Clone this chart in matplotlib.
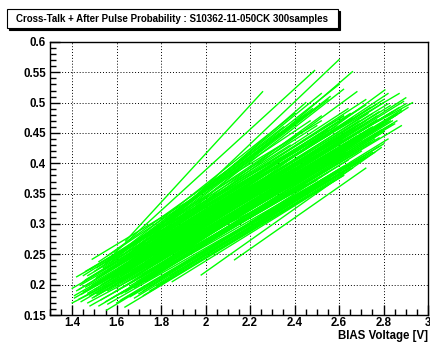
import matplotlib
matplotlib.use("Agg")
import matplotlib.pyplot as plt
from matplotlib.patches import Rectangle
from matplotlib.ticker import MultipleLocator

# Each sample curve: start voltage / probability, end voltage / probability
v_start = [
    1.40, 1.40, 1.41, 1.42, 1.43, 1.44, 1.45, 1.46, 1.47, 1.48, 1.49, 1.50, 1.50, 1.51, 1.52,
    1.53, 1.54, 1.555, 1.56, 1.57, 1.58, 1.58, 1.59, 1.60, 1.60, 1.61, 1.62, 1.62,
    1.637, 1.64, 1.64, 1.65, 1.66, 1.67, 1.68, 1.69, 1.70, 1.70, 1.71, 1.72,
    1.73, 1.74, 1.75, 1.76, 1.78, 1.78, 1.80, 1.80, 1.82, 1.85, 1.84,
    1.98, 1.90, 1.85, 1.75, 2.13,
    1.42, 1.44, 1.45, 1.46, 1.47, 1.48, 1.49, 1.50, 1.51, 1.52, 1.53, 1.54, 1.55, 1.56, 1.57,
    1.58, 1.59, 1.60, 1.61, 1.62, 1.63, 1.64, 1.65, 1.66, 1.67, 1.68, 1.69, 1.70, 1.71, 1.72,
    1.73, 1.74, 1.76, 1.77, 1.79,
    1.55, 1.60, 1.62, 1.65, 1.70, 1.58, 1.68,
    1.62, 1.66, 1.70, 1.74, 1.80, 1.88,
    1.41, 1.43, 1.44, 1.46, 1.47, 1.48, 1.49, 1.50, 1.51, 1.52, 1.53, 1.54, 1.55, 1.56, 1.57,
    1.58, 1.59, 1.60, 1.61, 1.62, 1.63, 1.64, 1.65, 1.66, 1.67, 1.68, 1.69, 1.70, 1.71, 1.72,
    1.73, 1.74, 1.75, 1.76, 1.77, 1.78, 1.80, 1.81, 1.83, 1.86,
    1.45, 1.50, 1.52, 1.56, 1.60, 1.63, 1.67, 1.72, 1.76,
    1.48, 1.55, 1.60, 1.68, 1.72, 1.78, 1.84, 1.92,
]
p_start = [
    0.170, 0.194, 0.182, 0.213, 0.176, 0.200, 0.188, 0.222, 0.170, 0.195, 0.242, 0.180, 0.208, 0.228, 0.165,
    0.200, 0.218, 0.158, 0.190, 0.235, 0.205, 0.178, 0.252, 0.215, 0.195, 0.228, 0.240, 0.185,
    0.163, 0.272, 0.210, 0.225, 0.198, 0.245, 0.232, 0.205, 0.262, 0.218, 0.250, 0.190,
    0.238, 0.228, 0.275, 0.258, 0.220, 0.280, 0.280, 0.248, 0.235, 0.285, 0.262,
    0.216, 0.222, 0.205, 0.190, 0.241,
    0.190, 0.184, 0.205, 0.196, 0.215, 0.182, 0.200, 0.192, 0.212, 0.185, 0.222, 0.198, 0.208, 0.225, 0.195,
    0.212, 0.188, 0.222, 0.205, 0.215, 0.232, 0.198, 0.212, 0.240, 0.222, 0.208, 0.235, 0.228, 0.212, 0.245,
    0.220, 0.250, 0.235, 0.228, 0.242,
    0.235, 0.245, 0.255, 0.250, 0.270, 0.240, 0.265,
    0.175, 0.180, 0.185, 0.200, 0.210, 0.228,
    0.178, 0.192, 0.172, 0.208, 0.186, 0.225, 0.178, 0.198, 0.185, 0.205, 0.175, 0.228, 0.195, 0.168, 0.215,
    0.228, 0.200, 0.182, 0.240, 0.205, 0.218, 0.188, 0.228, 0.252, 0.210, 0.195, 0.245, 0.205, 0.232, 0.218,
    0.205, 0.240, 0.222, 0.212, 0.248, 0.235, 0.225, 0.255, 0.242, 0.250,
    0.215, 0.222, 0.238, 0.248, 0.232, 0.250, 0.258, 0.265, 0.270,
    0.165, 0.172, 0.170, 0.178, 0.182, 0.198, 0.215, 0.232,
]
v_end = [
    2.42, 2.45, 2.40, 2.50, 2.48, 2.52, 2.46, 2.55, 2.50, 2.58, 2.52, 2.60, 2.56, 2.62, 2.55,
    2.60, 2.58, 2.62, 2.65, 2.64, 2.68, 2.55, 2.49, 2.70, 2.62, 2.66, 2.72, 2.70,
    2.62, 2.256, 2.74, 2.72, 2.76, 2.78, 2.75, 2.80, 2.45, 2.82, 2.80, 2.70,
    2.84, 2.86, 2.60, 2.82, 2.88, 2.87, 2.66, 2.90, 2.85, 2.93, 2.806,
    2.79, 2.70, 2.62, 2.58, 2.72,
    2.40, 2.46, 2.44, 2.50, 2.53, 2.49, 2.56, 2.54, 2.57, 2.60, 2.59, 2.61, 2.63, 2.66, 2.64,
    2.67, 2.63, 2.69, 2.71, 2.68, 2.73, 2.70, 2.75, 2.74, 2.77, 2.79, 2.78, 2.81, 2.76, 2.83,
    2.85, 2.80, 2.86, 2.84, 2.88,
    2.45, 2.50, 2.40, 2.55, 2.52, 2.35, 2.60,
    2.58, 2.65, 2.68, 2.75, 2.78, 2.82,
    2.44, 2.47, 2.42, 2.51, 2.54, 2.50, 2.57, 2.59, 2.52, 2.63, 2.56, 2.62, 2.60, 2.58, 2.69,
    2.65, 2.66, 2.64, 2.70, 2.73, 2.71, 2.68, 2.77, 2.72, 2.79, 2.74, 2.82, 2.77, 2.84, 2.80,
    2.78, 2.87, 2.83, 2.80, 2.89, 2.86, 2.84, 2.90, 2.88, 2.91,
    2.38, 2.43, 2.47, 2.44, 2.52, 2.48, 2.56, 2.62, 2.68,
    2.45, 2.52, 2.56, 2.62, 2.66, 2.72, 2.76, 2.80,
]
p_end = [
    0.360, 0.415, 0.392, 0.440, 0.385, 0.425, 0.402, 0.455, 0.372, 0.430, 0.470, 0.410, 0.448, 0.478, 0.385,
    0.432, 0.460, 0.395, 0.418, 0.490, 0.445, 0.390, 0.553, 0.462, 0.428, 0.475, 0.496, 0.410,
    0.380, 0.518, 0.458, 0.470, 0.440, 0.500, 0.482, 0.452, 0.500, 0.468, 0.505, 0.420,
    0.485, 0.470, 0.571, 0.515, 0.462, 0.515, 0.551, 0.508, 0.478, 0.500, 0.521,
    0.426, 0.405, 0.380, 0.372, 0.392,
    0.405, 0.395, 0.430, 0.418, 0.448, 0.392, 0.436, 0.420, 0.452, 0.415, 0.462, 0.438, 0.450, 0.472, 0.430,
    0.458, 0.418, 0.470, 0.450, 0.462, 0.482, 0.438, 0.460, 0.492, 0.472, 0.455, 0.485, 0.478, 0.455, 0.495,
    0.465, 0.500, 0.480, 0.470, 0.488,
    0.480, 0.492, 0.482, 0.505, 0.515, 0.460, 0.530,
    0.385, 0.392, 0.400, 0.418, 0.428, 0.440,
    0.398, 0.420, 0.380, 0.442, 0.412, 0.462, 0.402, 0.432, 0.405, 0.445, 0.392, 0.478, 0.425, 0.382, 0.465,
    0.482, 0.438, 0.405, 0.492, 0.452, 0.468, 0.418, 0.478, 0.505, 0.462, 0.435, 0.498, 0.448, 0.485, 0.465,
    0.442, 0.492, 0.470, 0.452, 0.502, 0.482, 0.465, 0.498, 0.485, 0.492,
    0.430, 0.452, 0.470, 0.478, 0.478, 0.490, 0.510, 0.522, 0.518,
    0.365, 0.378, 0.375, 0.385, 0.392, 0.410, 0.418, 0.432,
]

title_text = "Cross-Talk + After Pulse Probability : S10362-11-050CK 300samples"
x_label = "BIAS Voltage [V]"

W, H = 430, 343
plt.rcParams['font.family'] = ['Liberation Sans', 'DejaVu Sans']
fig = plt.figure(figsize=(W / 100, H / 100), dpi=100)
L, R, T, B = 50, 428, 42, 315
ax = fig.add_axes([L / W, 1 - B / H, (R - L) / W, (B - T) / H])

for x0, y0, x1, y1 in zip(v_start, p_start, v_end, p_end):
    ax.plot([x0, x1], [y0, y1], color='#00ff00', lw=1.0, zorder=3)

ax.set_xlim(1.3, 3.0)
ax.set_ylim(0.15, 0.6)
ax.xaxis.set_minor_locator(MultipleLocator(0.05))
ax.yaxis.set_minor_locator(MultipleLocator(0.01))
ax.set_xticks([1.4, 1.6, 1.8, 2.0, 2.2, 2.4, 2.6, 2.8, 3.0])
ax.set_xticklabels(['1.4', '1.6', '1.8', '2', '2.2', '2.4', '2.6', '2.8', '3'])
ax.set_yticks([0.15, 0.2, 0.25, 0.3, 0.35, 0.4, 0.45, 0.5, 0.55, 0.6])
ax.set_yticklabels(['0.15', '0.2', '0.25', '0.3', '0.35', '0.4', '0.45', '0.5', '0.55', '0.6'])

ax.tick_params(which='major', direction='in', length=7, width=1.0, labelsize=8.3,
               top=False, right=False)
ax.tick_params(axis='x', which='major', pad=1.5)
ax.tick_params(axis='y', which='major', pad=3)
ax.tick_params(which='minor', direction='in', length=4, width=1.0, top=False, right=False)
for lab in ax.get_xticklabels() + ax.get_yticklabels():
    lab.set_fontweight('bold')

ax.grid(True, which='major', color='black', linestyle=(0, (1, 2)), linewidth=0.7, zorder=1)
ax.set_axisbelow(True)
for s in ax.spines.values():
    s.set_linewidth(1.0)
    s.set_zorder(5)

ax.set_xlabel(x_label, fontsize=8.3, fontweight='bold', ha='right', va='center')
ax.xaxis.set_label_coords(1.0, -(336.5 - B) / (B - T))

# Title box with shadow (ROOT style)
bx0, by0, bx1, by1 = 7, 9, 338, 28
fig.patches.append(Rectangle(((bx0 + 2) / W, 1 - (by1 + 2) / H), (bx1 - bx0) / W, (by1 - by0) / H,
                             transform=fig.transFigure, facecolor='black', edgecolor='black', lw=0.8))
fig.patches.append(Rectangle((bx0 / W, 1 - by1 / H), (bx1 - bx0) / W, (by1 - by0) / H,
                             transform=fig.transFigure, facecolor='white', edgecolor='black', lw=0.8))
fig.text((bx0 + bx1) / 2 / W, 1 - (by0 + by1) / 2 / H, title_text, ha='center', va='center',
         fontsize=7.0, fontweight='bold')

fig.savefig('out.png', dpi=100)
